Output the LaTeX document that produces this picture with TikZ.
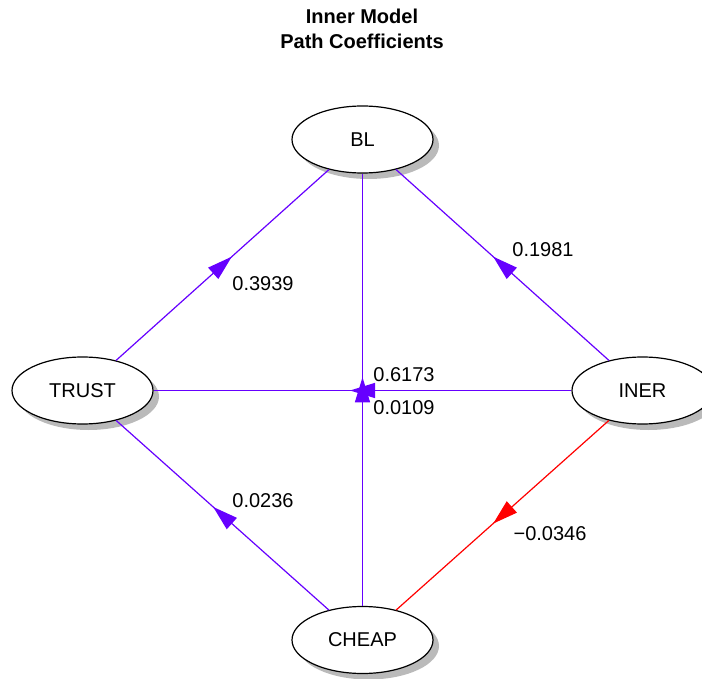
\documentclass[tikz,border=0pt]{standalone}
\usepackage{fontspec}
\setmainfont{Liberation Sans}
\usetikzlibrary{shapes.geometric,shadows,arrows.meta,decorations.markings}
\definecolor{pathblue}{RGB}{102,0,255}
\definecolor{pathred}{RGB}{255,0,0}
\tikzset{
  latent/.style={ellipse, draw=black, line width=1.2pt, fill=white,
    minimum width=141pt, minimum height=67pt, inner sep=0pt,
    font=\fontsize{20}{24}\selectfont,
    drop shadow={shadow xshift=6pt, shadow yshift=-6pt, fill=black!27, opacity=1}},
  coef/.style={font=\fontsize{20}{24}\selectfont, inner sep=0pt},
  pathedge/.style={line width=1.2pt, draw=#1,
    postaction={decorate},
    decoration={markings, mark=at position 0.5 with
      {\arrow[#1, xshift=12.5pt]{Triangle[length=25pt,width=15pt]}}}},
  pathedge/.default=pathblue
}
\begin{document}
\begin{tikzpicture}[x=1pt,y=-1pt]
  \useasboundingbox (0,0) rectangle (702,679);
  \clip (0,0) rectangle (702,679);
  % heading
  \node[font=\fontsize{20}{24}\selectfont\bfseries, align=center, inner sep=0pt]
    (heading) at (362,28.5) {Inner Model\\[1pt]Path Coefficients};
  % latent variables
  \node[latent] (BL)    at (362.5,139.5) {BL};
  \node[latent] (TRUST) at (82.5,390.5)  {TRUST};
  \node[latent] (INER)  at (642.5,390.5) {INER};
  \node[latent] (CHEAP) at (362.5,640)   {CHEAP};
  % inner paths
  \draw[pathedge] (TRUST) -- (BL);
  \draw[pathedge] (INER) -- (BL);
  \draw[pathedge] (INER) -- (TRUST);
  \draw[pathedge] (CHEAP) -- (BL);
  \draw[pathedge] (CHEAP) -- (TRUST);
  \draw[pathedge=pathred] (INER) -- (CHEAP);
  % path coefficients
  \node[coef] (c1) at (263,283.5)   {0.3939};
  \node[coef] (c2) at (543,249.5)   {0.1981};
  \node[coef] (c3) at (404,374.5)   {0.6173};
  \node[coef] (c4) at (404,407.5)   {0.0109};
  \node[coef] (c5) at (263,500.5)   {0.0236};
  \node[coef] (c6) at (550,533.5)   {−0.0346};
\end{tikzpicture}
\end{document}
